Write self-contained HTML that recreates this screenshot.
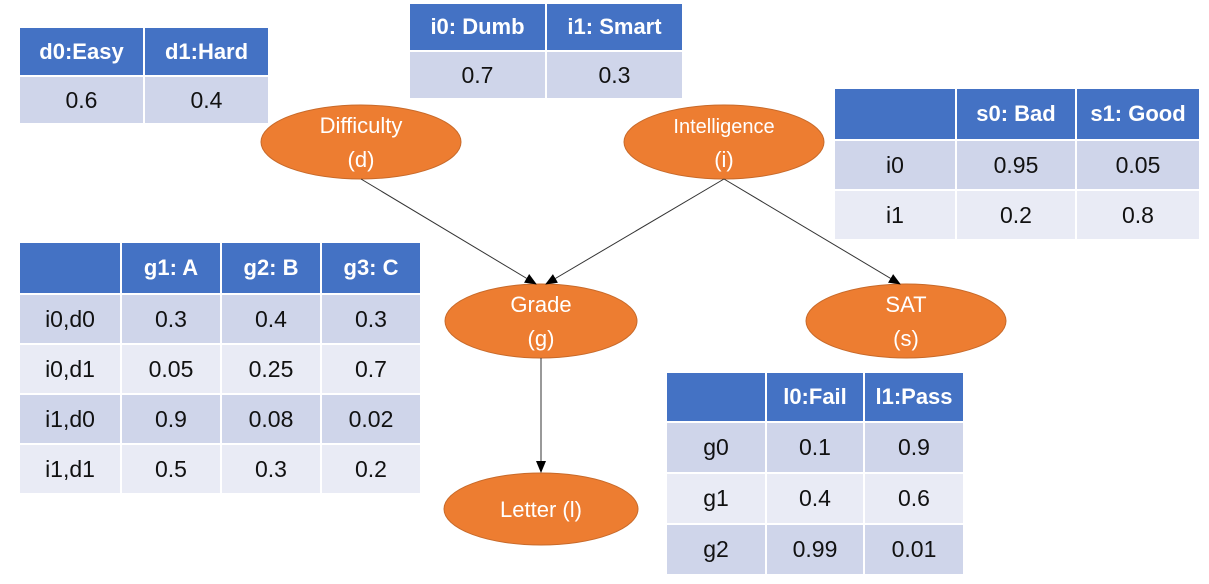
<!DOCTYPE html>
<html><head><meta charset="utf-8"><style>
body{margin:0;width:1209px;height:584px;background:#fff;position:relative;overflow:hidden;font-family:"Liberation Sans",sans-serif}
.t{position:absolute;display:grid;gap:2px}
.t div{display:flex;align-items:center;justify-content:center;font-size:23px;color:#111}
.t div.h{background:#4472C4;color:#fff;font-weight:bold;font-size:22px}
.d{background:#CFD5EA}
.l{background:#E9EBF5}
svg{position:absolute;left:0;top:0}
</style></head><body>
<svg width="1209" height="584">
<defs><marker id="a" markerWidth="12" markerHeight="12" refX="11" refY="6" orient="auto" markerUnits="userSpaceOnUse"><path d="M0,1 L12,6 L0,11 z" fill="#000"/></marker></defs>
<g fill="#ED7D31" stroke="#C86A2A" stroke-width="1">
<ellipse cx="361" cy="142" rx="100" ry="37"/>
<ellipse cx="724" cy="142" rx="100" ry="37"/>
<ellipse cx="541" cy="321" rx="96" ry="37"/>
<ellipse cx="906" cy="321" rx="100" ry="37"/>
<ellipse cx="541" cy="509" rx="97" ry="36"/>
</g>
<g stroke="#333" stroke-width="1" marker-end="url(#a)">
<line x1="361" y1="179" x2="536" y2="284"/>
<line x1="724" y1="179" x2="546" y2="284"/>
<line x1="724" y1="179" x2="900" y2="284"/>
<line x1="541" y1="358" x2="541" y2="472"/>
</g>
<g fill="#fff" font-family="Liberation Sans, sans-serif" font-size="22" text-anchor="middle">
<text x="361" y="133">Difficulty</text><text x="361" y="167">(d)</text>
<text x="724" y="133" font-size="20">Intelligence</text><text x="724" y="167">(i)</text>
<text x="541" y="312">Grade</text><text x="541" y="346">(g)</text>
<text x="906" y="312">SAT</text><text x="906" y="346">(s)</text>
<text x="541" y="517">Letter (l)</text>
</g>
</svg>
<div class="t" style="left:20px;top:28px;grid-template-columns:123px 123px;grid-template-rows:47px 46px">
<div class="h">d0:Easy</div><div class="h">d1:Hard</div>
<div class="d">0.6</div><div class="d">0.4</div></div>
<div class="t" style="left:410px;top:4px;grid-template-columns:135px 135px;grid-template-rows:46px 46px">
<div class="h">i0: Dumb</div><div class="h">i1: Smart</div>
<div class="d">0.7</div><div class="d">0.3</div></div>
<div class="t" style="left:835px;top:89px;grid-template-columns:120px 118px 122px;grid-template-rows:50px 48px 48px">
<div class="h"></div><div class="h">s0: Bad</div><div class="h">s1: Good</div>
<div class="d">i0</div><div class="d">0.95</div><div class="d">0.05</div>
<div class="l">i1</div><div class="l">0.2</div><div class="l">0.8</div></div>
<div class="t" style="left:20px;top:243px;grid-template-columns:100px 98px 98px 98px;grid-template-rows:50px 48px 48px 48px 48px">
<div class="h"></div><div class="h">g1: A</div><div class="h">g2: B</div><div class="h">g3: C</div>
<div class="d">i0,d0</div><div class="d">0.3</div><div class="d">0.4</div><div class="d">0.3</div>
<div class="l">i0,d1</div><div class="l">0.05</div><div class="l">0.25</div><div class="l">0.7</div>
<div class="d">i1,d0</div><div class="d">0.9</div><div class="d">0.08</div><div class="d">0.02</div>
<div class="l">i1,d1</div><div class="l">0.5</div><div class="l">0.3</div><div class="l">0.2</div></div>
<div class="t" style="left:667px;top:373px;grid-template-columns:98px 96px 98px;grid-template-rows:48px 49px 49px 49px">
<div class="h"></div><div class="h">l0:Fail</div><div class="h">l1:Pass</div>
<div class="d">g0</div><div class="d">0.1</div><div class="d">0.9</div>
<div class="l">g1</div><div class="l">0.4</div><div class="l">0.6</div>
<div class="d">g2</div><div class="d">0.99</div><div class="d">0.01</div></div>
</body></html>
